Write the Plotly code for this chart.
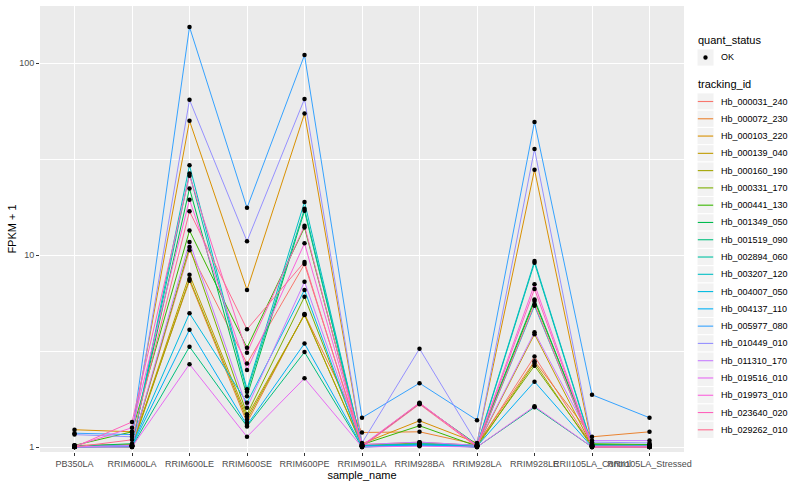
import plotly.graph_objects as go

categories = ["PB350LA", "RRIM600LA", "RRIM600LE", "RRIM600SE", "RRIM600PE", "RRIM901LA",
              "RRIM928BA", "RRIM928LA", "RRIM928LE", "RRII105LA_Control", "RRII105LA_Stressed"]

tracking_ids = ["Hb_000031_240", "Hb_000072_230", "Hb_000103_220", "Hb_000139_040", "Hb_000160_190",
                "Hb_000331_170", "Hb_000441_130", "Hb_001349_050", "Hb_001519_090", "Hb_002894_060",
                "Hb_003207_120", "Hb_004007_050", "Hb_004137_110", "Hb_005977_080", "Hb_010449_010",
                "Hb_011310_170", "Hb_019516_010", "Hb_019973_010", "Hb_023640_020", "Hb_029262_010"]

colors = ["#F8766D", "#EA8331", "#D89000", "#C09B00", "#A3A500", "#7CAE00", "#39B600", "#00BB4E",
          "#00BF7D", "#00C1A3", "#00BFC4", "#00BAE0", "#00B0F6", "#35A2FF", "#9590FF", "#C77CFF",
          "#E76BF3", "#FA62DB", "#FF62BC", "#FF6C91"]

quant_status = ["OK"]

# FPKM + 1 values, in category order
hb_000031_240 = [1.01, 1.02, 10.6, 2.72, 8.97, 1.03, 1.06, 1.02, 2.96, 1.02, 1.01]
hb_000072_230 = [1.02, 1.03, 7.35, 1.34, 4.93, 1.19, 1.20, 1.03, 2.80, 1.13, 1.20]
hb_000103_220 = [1.23, 1.20, 50.0, 6.58, 54.5, 1.04, 1.37, 1.05, 27.8, 1.03, 1.02]
hb_000139_040 = [1.00, 1.01, 7.90, 1.44, 4.87, 1.02, 1.03, 1.01, 3.87, 1.01, 1.00]
hb_000160_190 = [1.01, 1.00, 7.50, 1.39, 4.90, 1.01, 1.04, 1.00, 2.74, 1.00, 1.01]
hb_000331_170 = [1.00, 1.02, 11.0, 1.48, 6.06, 1.02, 1.05, 1.02, 2.65, 1.02, 1.01]
hb_000441_130 = [1.02, 1.20, 13.4, 3.29, 13.9, 1.03, 1.29, 1.01, 5.76, 1.04, 1.03]
hb_001349_050 = [1.01, 1.04, 22.2, 1.84, 17.0, 1.01, 1.68, 1.03, 5.87, 1.03, 1.02]
hb_001519_090 = [1.00, 1.00, 3.33, 1.28, 3.12, 1.00, 1.02, 1.00, 1.61, 1.00, 1.00]
hb_002894_060 = [1.00, 1.01, 26.6, 1.94, 17.4, 1.02, 1.03, 1.01, 9.10, 1.01, 1.01]
hb_003207_120 = [1.01, 1.01, 29.3, 2.00, 18.9, 1.01, 1.04, 1.02, 9.30, 1.02, 1.00]
hb_004007_050 = [1.00, 1.02, 4.97, 1.70, 6.58, 1.00, 1.03, 1.00, 5.44, 1.01, 1.02]
hb_004137_110 = [1.00, 1.01, 4.08, 1.30, 3.46, 1.01, 1.02, 1.01, 2.19, 1.00, 1.00]
hb_005977_080 = [1.18, 1.16, 154.0, 17.6, 110.0, 1.42, 2.15, 1.38, 49.3, 1.87, 1.42]
hb_010449_010 = [1.16, 1.13, 64.3, 11.8, 65.0, 1.05, 3.25, 1.04, 35.6, 1.06, 1.05]
hb_011310_170 = [1.00, 1.02, 11.7, 1.60, 7.25, 1.03, 1.06, 1.02, 3.96, 1.08, 1.08]
hb_019516_010 = [1.00, 1.00, 2.70, 1.13, 2.28, 1.00, 1.01, 1.00, 1.63, 1.00, 1.00]
hb_019973_010 = [1.01, 1.26, 19.4, 2.52, 11.5, 1.02, 1.69, 1.02, 7.04, 1.01, 1.01]
hb_023640_020 = [1.00, 1.35, 25.9, 3.10, 14.2, 1.01, 1.70, 1.01, 6.65, 1.00, 1.00]
hb_029262_010 = [1.00, 1.09, 16.9, 4.10, 9.20, 1.00, 1.67, 1.00, 5.53, 1.00, 1.00]

series = [hb_000031_240, hb_000072_230, hb_000103_220, hb_000139_040, hb_000160_190,
          hb_000331_170, hb_000441_130, hb_001349_050, hb_001519_090, hb_002894_060,
          hb_003207_120, hb_004007_050, hb_004137_110, hb_005977_080, hb_010449_010,
          hb_011310_170, hb_019516_010, hb_019973_010, hb_023640_020, hb_029262_010]

fig = go.Figure()
for tid, col, vals in zip(tracking_ids, colors, series):
    fig.add_trace(go.Scatter(x=categories, y=vals, mode="lines", name=tid,
                             line=dict(color=col, width=1.0), showlegend=False))

pts_x, pts_y = [], []
for vals in series:
    pts_x += categories
    pts_y += vals
fig.add_trace(go.Scatter(x=pts_x, y=pts_y, mode="markers", name=quant_status[0],
                         marker=dict(color="black", size=4.5), showlegend=False))

# plot-area geometry in pixels
LEFT, RIGHT, TOP, BOTTOM = 40, 684, 6, 452
W, H = 800, 500

def px_x(p):
    return (p - LEFT) / (RIGHT - LEFT)

def px_y(p):
    return (BOTTOM - p) / (BOTTOM - TOP)

shapes, annotations = [], []
KEY_L, KEY_R, TEXT_X = 697, 714, 719
KEY_STEP = 17.28

def legend_title(text, cy):
    annotations.append(dict(text=text, x=px_x(KEY_L - 1), y=px_y(cy), xref="paper", yref="paper",
                            xanchor="left", yanchor="middle", showarrow=False,
                            font=dict(size=11, color="black")))

def key_box(cy):
    shapes.append(dict(type="rect", xref="paper", yref="paper",
                       x0=px_x(KEY_L), x1=px_x(KEY_R),
                       y0=px_y(cy + KEY_STEP / 2), y1=px_y(cy - KEY_STEP / 2),
                       fillcolor="#F2F2F2", line=dict(color="white", width=1), layer="below"))

def key_text(text, cy):
    annotations.append(dict(text=text, x=px_x(TEXT_X), y=px_y(cy), xref="paper", yref="paper",
                            xanchor="left", yanchor="middle", showarrow=False,
                            font=dict(size=9, color="black")))

# quant_status legend
legend_title("quant_status", 40)
cy = 57.5
key_box(cy)
r = 2.2
shapes.append(dict(type="circle", xref="paper", yref="paper",
                   x0=px_x((KEY_L + KEY_R) / 2 - r), x1=px_x((KEY_L + KEY_R) / 2 + r),
                   y0=px_y(cy + r), y1=px_y(cy - r), fillcolor="black", line=dict(width=0)))
key_text(quant_status[0], cy)

# tracking_id legend
legend_title("tracking_id", 84)
for i, (tid, col) in enumerate(zip(tracking_ids, colors)):
    cy = 101.5 + KEY_STEP * i
    key_box(cy)
    shapes.append(dict(type="line", xref="paper", yref="paper",
                       x0=px_x(KEY_L + 0.8), x1=px_x(KEY_R - 0.8), y0=px_y(cy), y1=px_y(cy),
                       line=dict(color=col, width=1.1)))
    key_text(tid, cy)

fig.update_layout(
    width=W, height=H,
    margin=dict(l=LEFT, r=W - RIGHT, t=TOP, b=H - BOTTOM, autoexpand=False),
    paper_bgcolor="white", plot_bgcolor="#EBEBEB",
    font=dict(family="Liberation Sans, Arial, sans-serif", size=9, color="#4D4D4D"),
    showlegend=False,
    shapes=shapes, annotations=annotations,
    xaxis=dict(type="category", categoryorder="array", categoryarray=categories,
               range=[-0.6, 10.6], showgrid=True, gridcolor="white", gridwidth=1.1,
               ticks="outside", ticklen=3, tickcolor="#333333", tickangle=0,
               tickfont=dict(size=9, color="#4D4D4D"), zeroline=False, showline=False,
               title=dict(text="sample_name", font=dict(size=11, color="black"), standoff=1)),
    yaxis=dict(type="log", range=[-(BOTTOM - 447) / 192, 2 + (63 - TOP) / 192],
               tickvals=[1, 10, 100], ticktext=["1", "10", "100"],
               showgrid=True, gridcolor="white", gridwidth=1.1,
               ticks="outside", ticklen=3, tickcolor="#333333",
               tickfont=dict(size=9, color="#4D4D4D"), zeroline=False, showline=False,
               minor=dict(tickvals=[10 ** 0.5, 10 ** 1.5], showgrid=True, gridcolor="white",
                          gridwidth=0.6, ticks=""),
               title=dict(text="FPKM + 1", font=dict(size=11, color="black"), standoff=0)),
)

fig.write_html("out.html", config={"displayModeBar": False},
               post_script="document.body.style.margin='0px';")
